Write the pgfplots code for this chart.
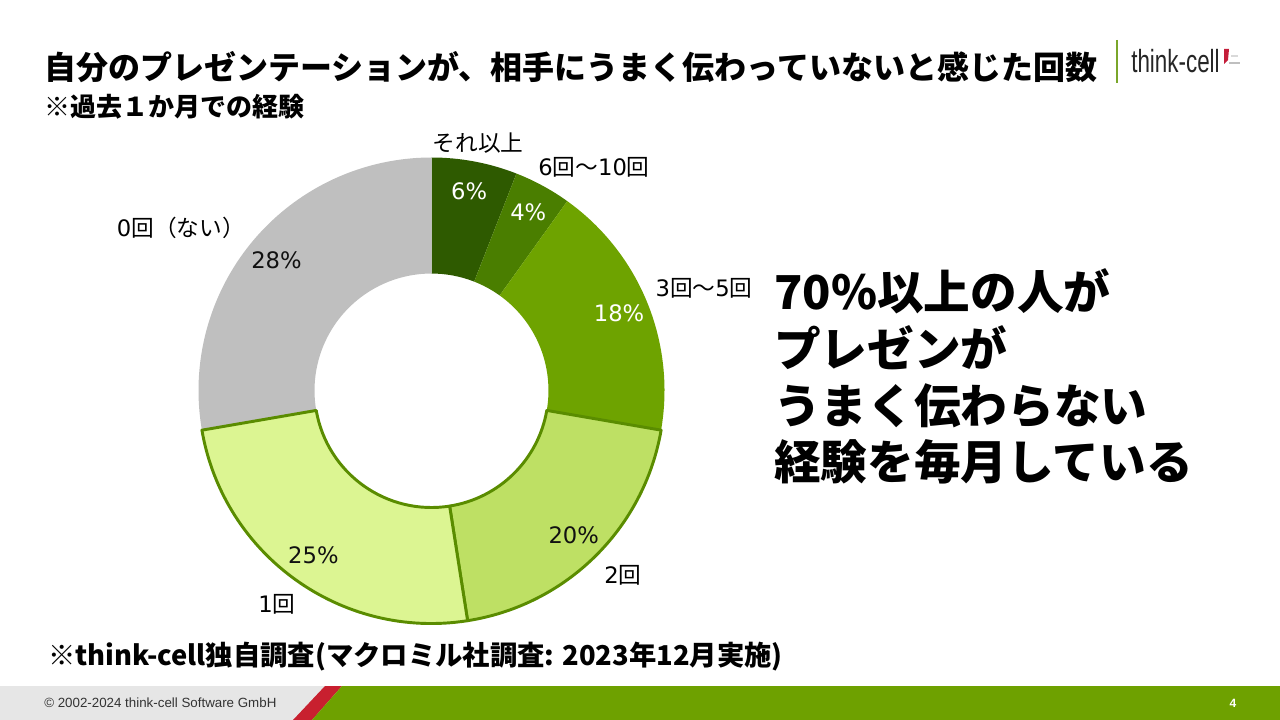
\documentclass[border=0pt]{standalone}
\usepackage{pgfplots}
\pgfplotsset{compat=1.18}
\usepackage{pgfplotstable}
\usepackage{fontspec}
\setmainfont{DejaVu Sans}
\newfontfamily\jp{Noto Sans CJK JP}
\newfontfamily\lib{Liberation Sans}
\newfontfamily\logof{Liberation Sans}[FakeStretch=0.7]

\definecolor{c0}{HTML}{2E5A00}
\definecolor{c1}{HTML}{4A7E00}
\definecolor{c2}{HTML}{6EA300}
\definecolor{c3}{HTML}{BEE064}
\definecolor{c4}{HTML}{DCF592}
\definecolor{c5}{HTML}{BFBFBF}
\definecolor{bd}{HTML}{5A8C00}
\colorlet{t0}{white}
\colorlet{t1}{white}
\colorlet{t2}{white}
\definecolor{t3}{HTML}{111111}
\definecolor{t4}{HTML}{111111}
\definecolor{t5}{HTML}{111111}
\definecolor{footgray}{HTML}{E6E6E6}
\definecolor{footred}{HTML}{C8202F}
\definecolor{footgreen}{HTML}{6EA100}
\definecolor{logogreen}{HTML}{7AA62A}
\definecolor{logored}{HTML}{C41E3A}
\definecolor{txtgray}{HTML}{333333}

% shares of answers (%), clockwise from 12 o'clock
\pgfplotstableread{
idx value
0 6
1 4
2 18
3 20
4 25
5 28
}\donutdata

\gdef\total{0}
\pgfplotstableforeachcolumnelement{value}\of\donutdata\as\v{%
  \pgfmathsetmacro\tmp{\total+\v}\xdef\total{\tmp}}
\gdef\cum{0}
\pgfplotstableforeachcolumnelement{value}\of\donutdata\as\v{%
  \pgfmathsetmacro\sa{90-(\cum/\total)*360}%
  \pgfmathsetmacro\tmp{\cum+\v}\xdef\cum{\tmp}%
  \pgfmathsetmacro\sb{90-(\cum/\total)*360}%
  \expandafter\xdef\csname segA\pgfplotstablerow\endcsname{\sa}%
  \expandafter\xdef\csname segB\pgfplotstablerow\endcsname{\sb}%
  \expandafter\xdef\csname segV\pgfplotstablerow\endcsname{\v}%
}

\def\ri{0.502}
\def\Ro{174.75pt}
\def\Ri{87.75pt}
\newcommand\donutseg[3]{%
  \path[#3] (axis cs:{\ri*cos(#1)},{\ri*sin(#1)}) -- (axis cs:{cos(#1)},{sin(#1)})
    arc[start angle=#1,end angle=#2,radius=\Ro]
    -- (axis cs:{\ri*cos(#2)},{\ri*sin(#2)})
    arc[start angle=#2,end angle=#1,radius=\Ri] -- cycle;}
\newcommand\donutlab[4]{%
  \node[text=#4, font=\fontsize{17}{20}\selectfont, inner sep=0pt]
    at (axis cs:{0.87*cos((#1+#2)/2)},{0.87*sin((#1+#2)/2)}) {#3\%};}

\begin{document}
\begin{tikzpicture}
\useasboundingbox (0,0) rectangle (960pt,-540pt);
\begin{axis}[at={(323.625pt,-292.875pt)}, anchor=center, scale only axis,
  width=349.5pt, height=349.5pt, xmin=-1, xmax=1, ymin=-1, ymax=1,
  hide axis, clip=false]
\addplot[draw=none, forget plot] coordinates {(0,0)};
\pgfplotsinvokeforeach{0,1,2,5}{%
  \edef\temp{\noexpand\donutseg{\csname segA#1\endcsname}{\csname segB#1\endcsname}{fill=c#1}}%
  \temp}
\pgfplotsinvokeforeach{3,4}{%
  \edef\temp{\noexpand\donutseg{\csname segA#1\endcsname}{\csname segB#1\endcsname}{fill=c#1,draw=bd,line width=2.2pt,line join=round}}%
  \temp}
\pgfplotsinvokeforeach{0,...,5}{%
  \edef\temp{\noexpand\donutlab{\csname segA#1\endcsname}{\csname segB#1\endcsname}{\csname segV#1\endcsname}{t#1}}%
  \temp}
\end{axis}

\begin{scope}[x=0.75pt,y=-0.75pt]
% footer
\fill[footgray] (0,686) rectangle (326,720);
\fill[footred] (293,720) -- (325,686) -- (342,686) -- (312,720) -- cycle;
\fill[footgreen] (312,720) -- (342,686) -- (1280,686) -- (1280,720) -- cycle;
\node[anchor=west, inner sep=0, font=\lib\fontsize{10}{12}\selectfont, text=txtgray] at (44,703) {© 2002-2024 think-cell Software GmbH};
\node[font=\lib\bfseries\fontsize{9}{10}\selectfont, text=white] at (1233,703) {4};
% title
\node[anchor=base west, inner sep=0, font=\jp\bfseries\fontsize{24}{28}\selectfont, text=black] at (44,80) {自分のプレゼンテーションが、相手にうまく伝わっていないと感じた回数};
\node[anchor=base west, inner sep=0, font=\jp\bfseries\fontsize{19.5}{24}\selectfont, text=black] at (44,117) {※過去１か月での経験};
% logo
\draw[logogreen, line width=1.5pt] (1117,40) -- (1117,83);
\node[anchor=base west, inner sep=0, font=\logof\fontsize{24}{28}\selectfont, text=black!85] at (1131,73) {think-cell};
\fill[logored] (1224,49) -- (1229,49) -- (1228,60) -- (1224,64) -- cycle;
\fill[black!25] (1229,62) rectangle (1240,64);
\fill[black!15] (1231,55) rectangle (1238,57);
% category labels
\node[font=\jp\fontsize{17}{20}\selectfont] at (478,143) {それ以上};
\node[font=\jp\fontsize{17}{20}\selectfont] at (594,167) {{\rmfamily 6}回～{\rmfamily 10}回};
\node[font=\jp\fontsize{17}{20}\selectfont] at (704,288) {{\rmfamily 3}回～{\rmfamily 5}回};
\node[font=\jp\fontsize{17}{20}\selectfont] at (623,575) {{\rmfamily 2}回};
\node[font=\jp\fontsize{17}{20}\selectfont] at (277,604) {{\rmfamily 1}回};
\node[anchor=east, inner sep=0, font=\jp\fontsize{17}{20}\selectfont] at (245,228) {{\rmfamily 0}回（ない）};
% message
\node[anchor=base west, inner sep=0, font=\jp\bfseries\fontsize{35}{42}\selectfont] at (774,309) {70\%以上の人が};
\node[anchor=base west, inner sep=0, font=\jp\bfseries\fontsize{35}{42}\selectfont] at (774,366) {プレゼンが};
\node[anchor=base west, inner sep=0, font=\jp\bfseries\fontsize{35}{42}\selectfont] at (774,423) {うまく伝わらない};
\node[anchor=base west, inner sep=0, font=\jp\bfseries\fontsize{35}{42}\selectfont] at (774,479) {経験を毎月している};
% source
\node[anchor=base west, inner sep=0, font=\jp\bfseries\fontsize{20.5}{24}\selectfont] at (48,665) {※think-cell独自調査(マクロミル社調査: 2023年12月実施)};
\end{scope}
\end{tikzpicture}
\end{document}
